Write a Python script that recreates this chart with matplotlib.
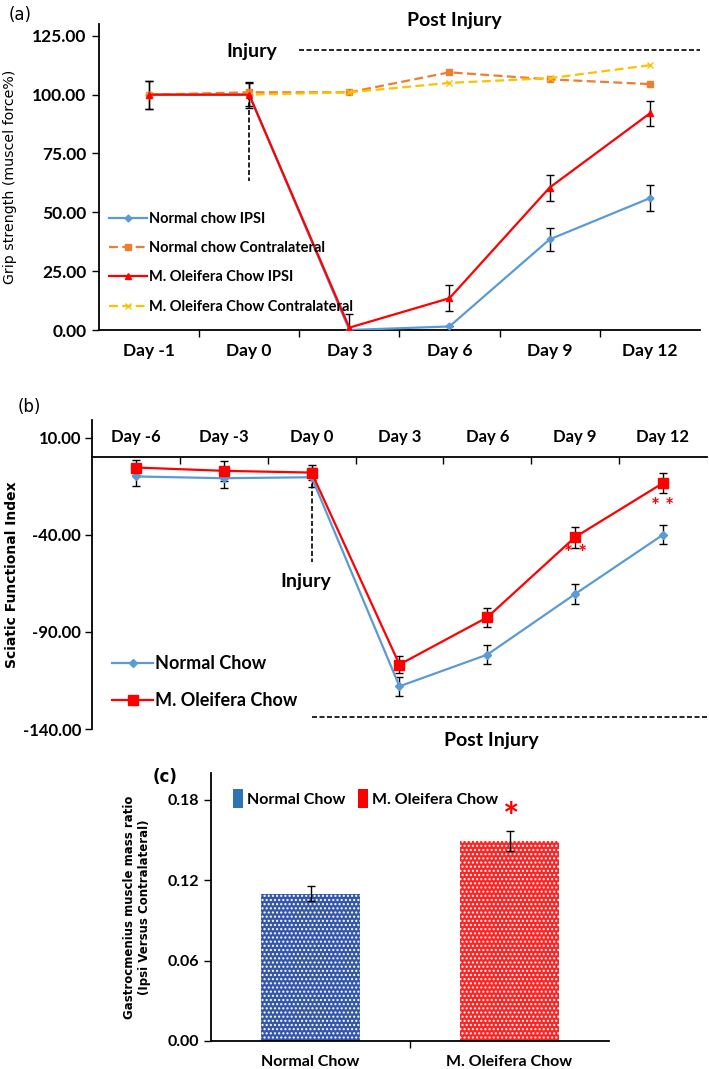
import matplotlib
matplotlib.use("Agg")
import matplotlib.pyplot as plt
import numpy as np
from matplotlib.ticker import FormatStrFormatter, FixedLocator, NullFormatter
from matplotlib.patches import Patch

# ---------------- data ----------------
days_a = ["Day -1", "Day 0", "Day 3", "Day 6", "Day 9", "Day 12"]
nc_ipsi = [100, 100, 0, 1.5, 38.5, 56]
nc_ipsi_err = [6, 5, 0, 0, 5, 5.5]
nc_contra = [100, 101, 101, 109.5, 106.5, 104.5]
mo_ipsi = [100, 100, 1, 13.5, 60.5, 92]
mo_ipsi_err = [6, 5.5, 6, 5.5, 5.5, 5.5]
mo_contra = [100, 100, 101, 105, 107, 112.5]

days_b = ["Day -6", "Day -3", "Day 0", "Day 3", "Day 6", "Day 9", "Day 12"]
sfi_nc = [-10, -10.9, -10.4, -118, -101.7, -70.5, -40]
sfi_nc_err = [5, 5, 5, 5, 5, 5, 5]
sfi_mo = [-5.4, -7.1, -8, -106.8, -82.5, -41.2, -13.4]
sfi_mo_err = [4, 5, 4, 4.6, 5, 5.4, 5]

groups_c = ["Normal Chow", "M. Oleifera Chow"]
ratio = [0.110, 0.149]
ratio_err = [0.0055, 0.0075]

# ---------------- style ----------------
NARROW = ["Lato", "DejaVu Sans"]
BLUE = "#5B9BD5"
ORANGE = "#ED7D31"
RED = "#FF0000"
GOLD = "#FFC000"

fig = plt.figure(figsize=(7.09, 10.69), dpi=100)

# ================= panel (a) =================
axa = fig.add_axes([0.1396, 0.6913, 0.8474, 0.2862])
xa = np.arange(len(days_a))
axa.plot(xa, nc_ipsi, color=BLUE, lw=1.6, marker="D", ms=3.5, label="Normal chow IPSI", zorder=3)
axa.errorbar(xa, nc_ipsi, yerr=nc_ipsi_err, fmt="none", ecolor="black", capsize=3, lw=1, zorder=2)
axa.plot(xa, nc_contra, color=ORANGE, lw=1.6, ls=(0, (4, 2)), marker="s", ms=5, label="Normal chow Contralateral", zorder=3)
axa.plot(xa, mo_ipsi, color=RED, lw=1.6, marker="^", ms=5, label="M. Oleifera Chow IPSI", zorder=4)
axa.errorbar(xa, mo_ipsi, yerr=mo_ipsi_err, fmt="none", ecolor="black", capsize=3, lw=1, zorder=2)
axa.plot(xa, mo_contra, color=GOLD, lw=1.6, ls=(0, (4, 2)), marker="x", ms=5, label="M. Oleifera Chow Contralateral", zorder=3)

axa.set_xlim(-0.5, len(days_a) - 0.5)
axa.set_ylim(0, 130)
axa.set_yticks([0, 25, 50, 75, 100, 125])
axa.yaxis.set_major_formatter(FormatStrFormatter("%.2f"))
axa.xaxis.set_major_locator(FixedLocator(np.arange(0.5, len(days_a) - 0.5, 1)))
axa.xaxis.set_major_formatter(NullFormatter())
axa.xaxis.set_minor_locator(FixedLocator(xa))
axa.set_xticklabels(days_a, minor=True)
axa.tick_params(axis="x", which="major", direction="out", length=5, width=1)
axa.tick_params(axis="x", which="minor", length=0, pad=9)
axa.tick_params(axis="y", direction="out", length=5, width=1, pad=4)
for lab in axa.get_xticklabels(minor=True) + axa.get_yticklabels():
    lab.set_family(NARROW); lab.set_fontweight("bold"); lab.set_fontsize(12.5)
for s in ["top", "right"]:
    axa.spines[s].set_visible(False)
for s in ["left", "bottom"]:
    axa.spines[s].set_linewidth(1.3)
axa.set_ylabel("Grip strength (muscel force%)", fontsize=10.2, family="DejaVu Sans")
axa.yaxis.set_label_coords(-0.136, 0.5)

axa.plot([1.5, 5.5], [119, 119], color="black", lw=1.2, ls=(0, (3, 1.5)), clip_on=False)
axa.plot([1, 1], [100, 63.5], color="black", lw=1.2, ls=(0, (3, 1.5)), zorder=1)
axa.text(1.03, 118.5, "Injury", ha="center", va="center", fontsize=14, fontweight="bold", family=NARROW)
axa.text(3.05, 131.5, "Post Injury", ha="center", va="center", fontsize=14, fontweight="bold", family=NARROW, clip_on=False)

axa.legend(loc="upper left", bbox_to_anchor=(0.0, 0.42), frameon=False,
           prop={"family": NARROW, "weight": "bold", "size": 10.5},
           handlelength=2.6, handletextpad=0.1, labelspacing=1.05, borderaxespad=0.3)
fig.text(0.012, 0.986, "(a)", fontsize=12, va="center", ha="left", family="DejaVu Sans")

# ================= panel (b) =================
axb = fig.add_axes([0.1298, 0.318, 0.8672, 0.289])
xb = np.arange(len(days_b))
axb.errorbar(xb, sfi_nc, yerr=sfi_nc_err, fmt="none", ecolor="black", capsize=3, lw=1, zorder=2)
axb.errorbar(xb, sfi_mo, yerr=sfi_mo_err, fmt="none", ecolor="black", capsize=3, lw=1, zorder=2)
axb.plot(xb, sfi_nc, color=BLUE, lw=1.6, marker="D", ms=4, label="Normal Chow", zorder=3)
axb.plot(xb, sfi_mo, color=RED, lw=1.6, marker="s", ms=7, label="M. Oleifera Chow", zorder=4)
axb.set_xlim(-0.5, len(days_b) - 0.5)
axb.set_ylim(-140, 19)
axb.set_yticks([10, -40, -90, -140])
axb.yaxis.set_major_formatter(FormatStrFormatter("%.2f"))
for s in ["right", "bottom"]:
    axb.spines[s].set_visible(False)
axb.spines["top"].set_position(("data", 0))
axb.spines["top"].set_linewidth(1.3)
axb.spines["left"].set_linewidth(1.3)
axb.xaxis.set_ticks_position("top")
axb.xaxis.set_major_locator(FixedLocator(np.arange(0.5, len(days_b) - 0.5, 1)))
axb.xaxis.set_major_formatter(NullFormatter())
axb.xaxis.set_minor_locator(FixedLocator(xb))
axb.set_xticklabels(days_b, minor=True)
axb.tick_params(axis="x", which="major", direction="in", length=5, width=1, top=True, bottom=False)
axb.tick_params(axis="x", which="minor", length=0, pad=9, top=True, bottom=False, labeltop=True, labelbottom=False)
axb.tick_params(axis="y", direction="out", length=5, width=1, pad=3)
for lab in axb.get_xticklabels(minor=True) + axb.get_yticklabels():
    lab.set_family(NARROW); lab.set_fontweight("bold"); lab.set_fontsize(12)
axb.set_ylabel("Sciatic Functional Index", fontsize=10, fontweight="bold", family="DejaVu Sans")
axb.yaxis.set_label_coords(-0.118, 0.5)

axb.plot([2, 2], [-10, -54], color="black", lw=1.2, ls=(0, (3, 1.5)), zorder=1)
axb.text(1.93, -64, "Injury", ha="center", va="center", fontsize=14, fontweight="bold", family=NARROW)
axb.plot([2, 6.5], [-134, -134], color="black", lw=1.2, ls=(0, (3, 1.5)), clip_on=False)
axb.text(4.05, -146, "Post Injury", ha="center", va="center", fontsize=14, fontweight="bold", family=NARROW, clip_on=False)
axb.text(5, -50, "* *", ha="center", va="center", fontsize=15, color=RED, fontweight="bold", family=NARROW)
axb.text(6, -25.5, "* *", ha="center", va="center", fontsize=15, color=RED, fontweight="bold", family=NARROW)

axb.legend(loc="lower left", bbox_to_anchor=(0.0, 0.0), frameon=False,
           prop={"family": NARROW, "weight": "bold", "size": 13},
           handlelength=2.3, handletextpad=0.1, labelspacing=1.1, borderaxespad=0.7)
fig.text(0.025, 0.619, "(b)", fontsize=12, va="center", ha="left", family="DejaVu Sans")

# ================= panel (c) =================
axc = fig.add_axes([0.2976, 0.0262, 0.5614, 0.2508])
xc = np.arange(len(groups_c))
bar_colors = ["#3557A8", "#FF2424"]
axc.bar(xc, ratio, width=0.5, color=bar_colors, edgecolor="white", linewidth=0, hatch="....", zorder=2)
axc.errorbar(xc, ratio, yerr=ratio_err, fmt="none", ecolor="black", capsize=3, lw=1, zorder=3)
axc.set_xlim(-0.5, 1.5)
axc.set_ylim(0, 0.2)
axc.set_yticks([0, 0.06, 0.12, 0.18])
axc.yaxis.set_major_formatter(FormatStrFormatter("%.2f"))
axc.xaxis.set_major_locator(FixedLocator([0.5]))
axc.xaxis.set_major_formatter(NullFormatter())
axc.xaxis.set_minor_locator(FixedLocator(xc))
axc.set_xticklabels(groups_c, minor=True)
axc.tick_params(axis="x", which="major", direction="out", length=5, width=1)
axc.tick_params(axis="x", which="minor", length=0, pad=10)
axc.tick_params(axis="y", direction="out", length=5, width=1)
for lab in axc.get_xticklabels(minor=True) + axc.get_yticklabels():
    lab.set_family(NARROW); lab.set_fontweight("bold"); lab.set_fontsize(11.5)
for s in ["top", "right"]:
    axc.spines[s].set_visible(False)
for s in ["left", "bottom"]:
    axc.spines[s].set_linewidth(1.3)
axc.set_ylabel("Gastrocmenius muscle mass ratio\n(Ipsi Versus Contralateral)", fontsize=8.5,
               fontweight="bold", family="DejaVu Sans")
axc.yaxis.set_label_coords(-0.15, 0.5)
axc.text(1.01, 0.166, "*", ha="center", va="center", fontsize=28, color=RED, fontweight="bold", family=NARROW)

handles = [Patch(facecolor="#2E75B6", edgecolor="none"), Patch(facecolor="#FF0000", edgecolor="none")]
axc.legend(handles, groups_c, loc="upper left", bbox_to_anchor=(0.04, 0.965), ncol=2, frameon=False,
           prop={"family": NARROW, "weight": "bold", "size": 11.5},
           handlelength=0.6, handleheight=1.5, handletextpad=0.25, columnspacing=0.8, borderaxespad=0.0)
fig.text(0.215, 0.273, "(c)", fontsize=12, va="center", ha="left", family="DejaVu Sans", fontweight="bold")

fig.savefig("out.png", dpi=100)
